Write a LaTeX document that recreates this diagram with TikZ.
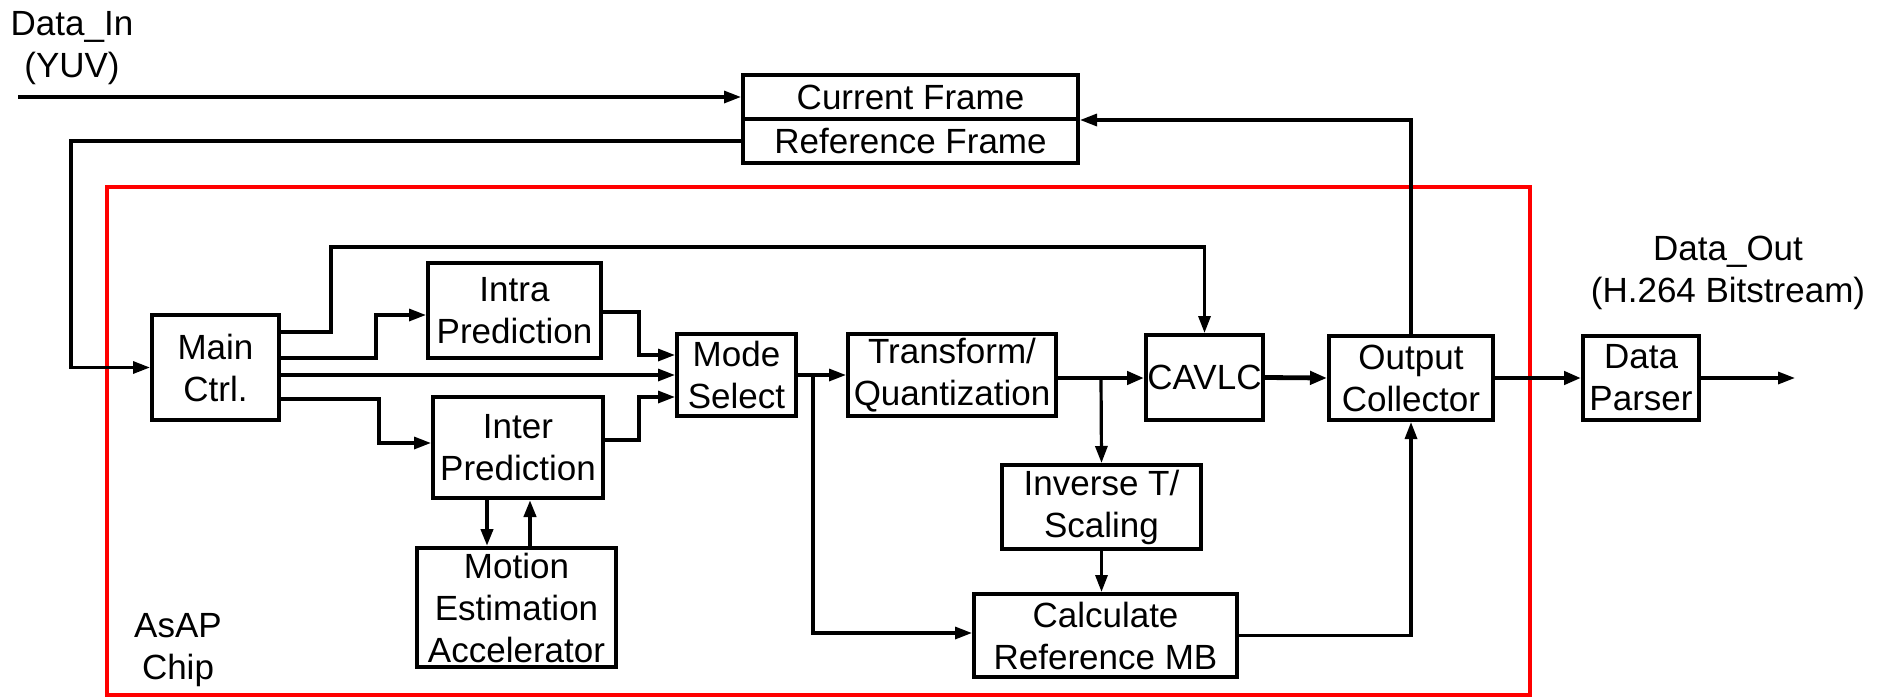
\documentclass[tikz,border=0pt]{standalone}
\usepackage{fontspec}
\setmainfont{Liberation Sans}
\usetikzlibrary{arrows.meta}
\newcommand\diaglbl{\fontsize{17.5}{21}\selectfont}
\begin{document}
\begin{tikzpicture}[x=0.5pt,y=-0.5pt,
  blk/.style={draw, line width=2pt, align=center, inner sep=0pt, font=\diaglbl},
  txt/.style={align=center, inner sep=0pt, font=\diaglbl},
  wire/.style={line width=1.6pt},
  conn/.style={line width=1.6pt, -{Triangle[length=8.5pt,width=6pt]}},
  heavy/.style={line width=2.4pt, -{Triangle[length=8.5pt,width=6.5pt]}},
  chip/.style={draw=red, line width=2pt},
]
\useasboundingbox (0,0) rectangle (1883,696);

% chip outline
\draw[chip] (107,187) rectangle (1530,695);

% frame memory
\node[blk, minimum width=167.5pt, minimum height=22pt] (cur) at (910.5,97)  {Current Frame};
\node[blk, minimum width=167.5pt, minimum height=22pt] (ref) at (910.5,141) {Reference Frame};

% processing blocks
\node[blk, minimum width=63.5pt, minimum height=52.5pt] (main) at (215.5,367.5) {Main\\Ctrl.};
\node[blk, minimum width=86.5pt, minimum height=47.5pt] (intra) at (514.5,310.5) {Intra\\Prediction};
\node[blk, minimum width=85pt, minimum height=50.5pt] (inter) at (518,447.5) {Inter\\Prediction};
\node[blk, minimum width=99.5pt, minimum height=59.5pt] (me) at (516.5,607.5) {Motion\\Estimation\\Accelerator};
\node[blk, minimum width=59.5pt, minimum height=41pt] (mode) at (736.5,375) {Mode\\Select};
\node[blk, minimum width=104pt, minimum height=41pt] (tq) at (952,375) {Transform/\\Quantization};
\node[blk, minimum width=58.5pt, minimum height=42.5pt] (cavlc) at (1204.5,377.5) {CAVLC};
\node[blk, minimum width=82pt, minimum height=42pt] (oc) at (1411,378) {Output\\Collector};
\node[blk, minimum width=58pt, minimum height=42pt] (dp) at (1641,378) {Data\\Parser};
\node[blk, minimum width=99.5pt, minimum height=42pt] (its) at (1101.5,507) {Inverse T/\\Scaling};
\node[blk, minimum width=131.5pt, minimum height=41.5pt] (crmb) at (1105.5,635.5) {Calculate\\Reference MB};

% labels
\node[txt] (din) at (72,48.5) {Data\_In\\(YUV)};
\node[txt] (dout) at (1728,273) {Data\_Out\\(H.264 Bitstream)};
\node[txt] (asap) at (178,650) {AsAP\\Chip};

\coordinate (src) at (18,97);
\coordinate (sink) at (1795,378);

% external input and frame memory
\draw[conn] (src) -- (cur.west);
\draw[conn] (ref.west) -- (71,141) |- (main.west);

% main control fan-out
\draw[conn] (main.east |- 0,332) -- (331,332) -- (331,247) -| (cavlc.north);
\draw[conn] (main.east |- 0,358) -- (376,358) |- (intra.west |- 0,315);
\draw[conn] (main.east |- 0,375) -- (mode.west |- 0,375);
\draw[conn] (main.east |- 0,399) -- (379,399) |- (inter.west |- 0,443);

% predictions into mode select
\draw[conn] (intra.east |- 0,312) -- (639,312) |- (mode.west |- 0,355);
\draw[conn] (inter.east |- 0,440) -- (639,440) |- (mode.west |- 0,397);

% motion estimation
\draw[conn, line width=2pt] (487,0 |- inter.south) -- (487,0 |- me.north);
\draw[conn, line width=2pt] (530,0 |- me.north) -- (530,0 |- inter.south);

% main datapath
\draw[conn] (mode.east) -- (tq.west);
\draw[conn] (813,375) -- (813,633) -- (crmb.west |- 0,633);
\draw[heavy] (tq.east |- 0,378) -- (cavlc.west |- 0,378);
\draw[conn] (1101,378) -- (its.north);
\draw[conn] (its.south) -- (its.south |- crmb.north);
\draw[conn] (crmb.east) -| (oc.south);
\draw[heavy] (cavlc.east) -- (oc.west);
\draw[heavy] (oc.east) -- (dp.west);
\draw[conn] (dp.east) -- (sink);

% reconstructed frame feedback
\draw[conn] (oc.north) |- (cur.east |- 0,120);
\end{tikzpicture}
\end{document}
